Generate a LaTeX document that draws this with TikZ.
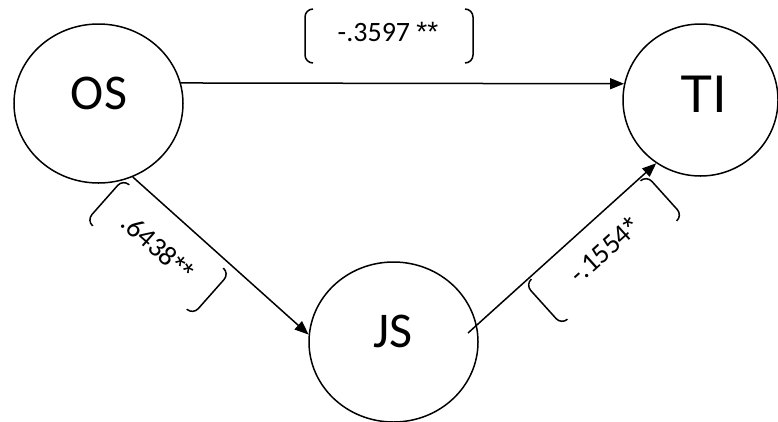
\documentclass[tikz,border=0pt]{standalone}
\usepackage{fontspec}
\setmainfont{Carlito}
\newfontfamily\arialfont{Liberation Sans}
\usetikzlibrary{arrows.meta,calc,shapes.geometric}
% larger asterisks for significance marks
\newcommand{\sigstar}{{\arialfont *}}

\begin{document}
\begin{tikzpicture}[x=1pt,y=-1pt,
  circ/.style={draw,ellipse,line width=1.5pt,inner sep=0pt},
  arr/.style={line width=1.5pt,-{Triangle[length=14pt,width=11pt]}},
  coef/.style={font=\fontsize{28}{30}\selectfont,inner sep=0pt},
  vname/.style={font=\fontsize{50}{54}\selectfont,inner sep=0pt},
  brk/.style={line width=1.5pt,rounded corners=8pt}]
\useasboundingbox (0,0) rectangle (778,421);

% variables
\node[circ,minimum width=169pt,minimum height=159pt] (OS) at (98.5,103.5) {};
\node[circ,minimum width=155pt,minimum height=152pt] (TI) at (700.5,100) {};
\node[circ,minimum width=169pt,minimum height=160pt] (JS) at (393.5,342) {};

\node[vname] (OSt) at (99,93) {OS};
\node[vname,font=\arialfont\fontsize{53}{56}\selectfont] (TIt) at (704,94) {TI};
\node[vname] (JSt) at (393,331) {JS};

% paths
\coordinate (JSout) at ($(JS.center)+(74.5,-9)$);
\draw[arr] (OS.14) -- (TI.168);
\draw[arr] (OS.-65) -- (JS.175);
\draw[arr] (JSout) -- (TI.-125);

% path coefficients in bracket pairs
\begin{scope}[shift={(389,36)}]
  \node[coef] (cOT) at (-1,-4) {-.3597 \sigstar\sigstar};
  \draw[brk] (-76,-27) -- (-84,-27) -- (-84,27) -- (-76,27);
  \draw[brk] (76,-27) -- (84,-27) -- (84,27) -- (76,27);
\end{scope}

\begin{scope}[shift={(158,247)},rotate=-41.5,transform shape]
  \node[coef] (cOJ) at (0,0) {.6438\sigstar\sigstar};
  \draw[brk] (-63,-27.5) -- (-71,-27.5) -- (-71,27.5) -- (-63,27.5);
  \draw[brk] (63,-27.5) -- (71,-27.5) -- (71,27.5) -- (63,27.5);
\end{scope}

\begin{scope}[shift={(604,250)},rotate=42,transform shape]
  \node[coef] (cJT) at (0,0) {-.1554\sigstar};
  \draw[brk] (-73.5,-27) -- (-81.5,-27) -- (-81.5,27) -- (-73.5,27);
  \draw[brk] (73.5,-27) -- (81.5,-27) -- (81.5,27) -- (73.5,27);
\end{scope}
\end{tikzpicture}
\end{document}
